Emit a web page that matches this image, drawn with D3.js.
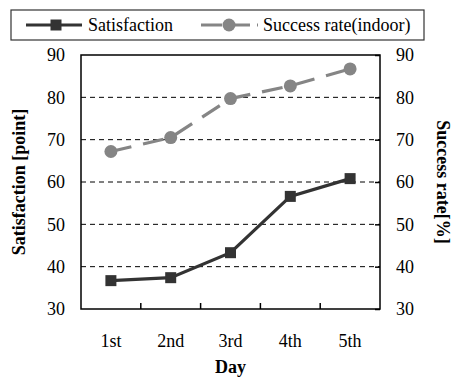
<!DOCTYPE html>
<html>
<head>
<meta charset="utf-8">
<script src="https://cdn.jsdelivr.net/npm/d3@7/dist/d3.min.js"></script>
<style>
  html, body { margin: 0; padding: 0; background: #fff; }
  svg text { font-family: "Liberation Serif", "Times New Roman", serif; }
</style>
</head>
<body>
<svg id="chart" width="453" height="380"></svg>
<script>
// Daily satisfaction score and indoor success rate
const days = ["1st", "2nd", "3rd", "4th", "5th"];
const satisfaction = [36.7, 37.4, 43.3, 56.6, 60.8];
const successRate = [67.2, 70.5, 79.7, 82.7, 86.7];
const leftTicks = [30, 40, 50, 60, 70, 80, 90];
const rightTicks = [30, 40, 50, 60, 70, 80, 90];
const seriesNames = ["Satisfaction", "Success rate(indoor)"];

const serif = "Liberation Serif";
const svg = d3.select("#chart");
const plot = { left: 81, top: 55, right: 380, bottom: 309 };

const x = d3.scaleBand().domain(days).range([plot.left, plot.right]);
const yL = d3.scaleLinear().domain([30, 90]).range([plot.bottom, plot.top]);
const yR = d3.scaleLinear().domain([30, 90]).range([plot.bottom, plot.top]);

const fontSize = 18;
const darkCol = "#333333";
const grayCol = "#858585";

// Dashed horizontal gridlines
svg.append("g")
  .selectAll("line")
  .data(leftTicks.filter(t => t > 30 && t < 90))
  .join("line")
  .attr("x1", plot.left).attr("x2", plot.right)
  .attr("y1", d => yL(d)).attr("y2", d => yL(d))
  .attr("stroke", "#000").attr("stroke-width", 1)
  .attr("stroke-dasharray", "5,4");

// Plot frame
svg.append("rect")
  .attr("x", plot.left).attr("y", plot.top)
  .attr("width", plot.right - plot.left).attr("height", plot.bottom - plot.top)
  .attr("fill", "none").attr("stroke", "#000").attr("stroke-width", 1.5);

// Left axis
const axL = svg.append("g")
  .attr("transform", `translate(${plot.left},0)`)
  .call(d3.axisLeft(yL).tickValues(leftTicks).tickSize(0).tickPadding(16));
axL.select(".domain").remove();
axL.attr("font-family", serif);
axL.selectAll("text").attr("font-size", fontSize).attr("font-family", serif).attr("fill", "#000");

// Right axis with inward tick marks
const axR = svg.append("g")
  .attr("transform", `translate(${plot.right},0)`)
  .call(d3.axisRight(yR).tickValues(rightTicks).tickSizeInner(-5).tickSizeOuter(0).tickPadding(16));
axR.select(".domain").remove();
axR.attr("font-family", serif);
axR.selectAll("line").attr("stroke", "#000").attr("stroke-width", 1.5);
axR.selectAll("text").attr("font-size", fontSize).attr("font-family", serif).attr("fill", "#000");

// Bottom axis: labels centred in bands, tick marks on band boundaries
const axB = svg.append("g")
  .attr("transform", `translate(0,${plot.bottom})`)
  .call(d3.axisBottom(x).tickSize(0).tickPadding(25));
axB.select(".domain").remove();
axB.attr("font-family", serif);
axB.selectAll("text").attr("font-size", fontSize).attr("font-family", serif).attr("fill", "#000");
svg.append("g")
  .selectAll("line")
  .data(days.slice(1))
  .join("line")
  .attr("x1", d => x(d)).attr("x2", d => x(d))
  .attr("y1", plot.bottom).attr("y2", plot.bottom - 6)
  .attr("stroke", "#000").attr("stroke-width", 1.5);

const cx = d => x(d) + x.bandwidth() / 2;

// Success rate series (right axis)
const lineR = d3.line().x((d, i) => cx(days[i])).y(d => yR(d));
svg.append("path")
  .datum(successRate)
  .attr("d", lineR)
  .attr("fill", "none").attr("stroke", grayCol).attr("stroke-width", 3.2)
  .attr("stroke-dasharray", "21,12");
svg.append("g")
  .selectAll("circle")
  .data(successRate)
  .join("circle")
  .attr("cx", (d, i) => cx(days[i])).attr("cy", d => yR(d))
  .attr("r", 6.5).attr("fill", grayCol);

// Satisfaction series (left axis)
const lineL = d3.line().x((d, i) => cx(days[i])).y(d => yL(d));
svg.append("path")
  .datum(satisfaction)
  .attr("d", lineL)
  .attr("fill", "none").attr("stroke", darkCol).attr("stroke-width", 3.2);
svg.append("g")
  .selectAll("rect")
  .data(satisfaction)
  .join("rect")
  .attr("x", (d, i) => cx(days[i]) - 5.5).attr("y", d => yL(d) - 5.5)
  .attr("width", 11).attr("height", 11).attr("fill", darkCol);

// Axis titles
svg.append("text")
  .attr("transform", `translate(25,${(plot.top + plot.bottom) / 2}) rotate(-90)`)
  .attr("text-anchor", "middle").attr("font-weight", "bold").attr("font-family", serif)
  .attr("font-size", fontSize).text("Satisfaction [point]");
svg.append("text")
  .attr("transform", `translate(437,${(plot.top + plot.bottom) / 2}) rotate(90)`)
  .attr("text-anchor", "middle").attr("font-weight", "bold").attr("font-family", serif)
  .attr("font-size", fontSize).text("Success rate[%]");
svg.append("text")
  .attr("x", (plot.left + plot.right) / 2).attr("y", 373)
  .attr("text-anchor", "middle").attr("font-weight", "bold").attr("font-family", serif)
  .attr("font-size", fontSize).text("Day");

// Legend
const legend = svg.append("g");
legend.append("rect")
  .attr("x", 11).attr("y", 10).attr("width", 413).attr("height", 30)
  .attr("fill", "#fff").attr("stroke", "#333").attr("stroke-width", 1.2);
const ly = 25;
legend.append("line").attr("x1", 26).attr("x2", 82).attr("y1", ly).attr("y2", ly)
  .attr("stroke", darkCol).attr("stroke-width", 3.2);
legend.append("rect").attr("x", 56 - 5.5).attr("y", ly - 5.5).attr("width", 11).attr("height", 11)
  .attr("fill", darkCol);
legend.append("text").attr("x", 88).attr("y", ly + 6).attr("font-family", serif)
  .attr("font-size", fontSize).text(seriesNames[0]);
legend.append("line").attr("x1", 201).attr("x2", 258).attr("y1", ly).attr("y2", ly)
  .attr("stroke", grayCol).attr("stroke-width", 3.2).attr("stroke-dasharray", "21,7");
legend.append("circle").attr("cx", 229).attr("cy", ly).attr("r", 6.5).attr("fill", grayCol);
legend.append("text").attr("x", 263).attr("y", ly + 6).attr("font-family", serif)
  .attr("font-size", fontSize).text(seriesNames[1]);
</script>
</body>
</html>
